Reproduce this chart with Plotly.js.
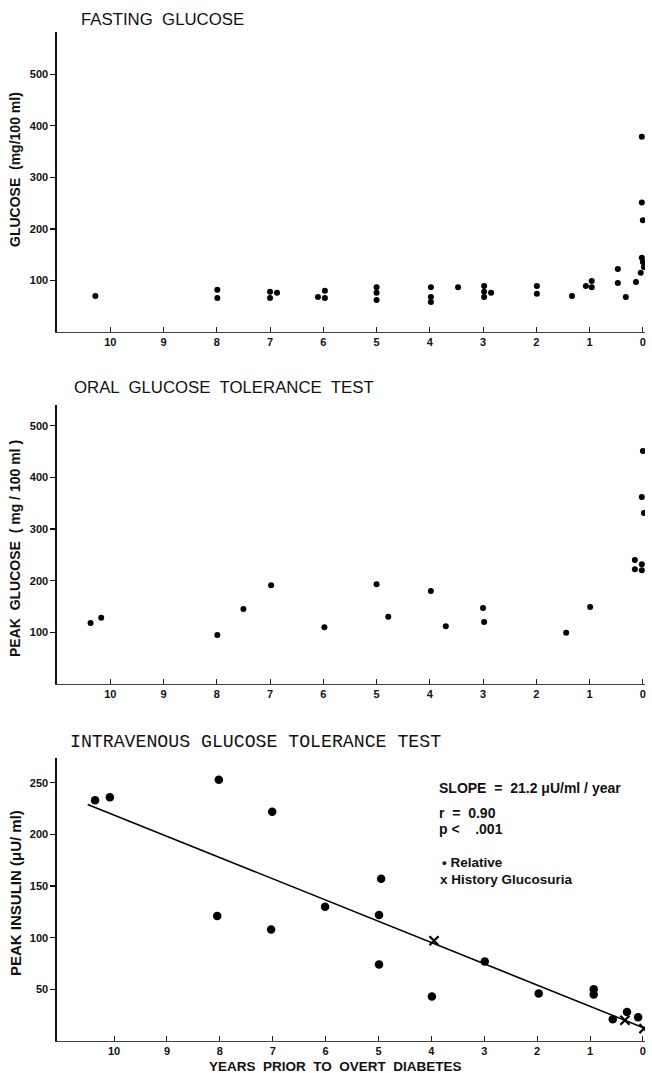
<!DOCTYPE html>
<html>
<head>
<meta charset="utf-8">
<script src="https://cdn.plot.ly/plotly-3.0.1.min.js"></script>
<style>html,body{margin:0;padding:0;background:#fff;}#chart{width:652px;height:1073px;}</style>
</head>
<body>
<div id="chart"></div>
<script>
// ---- Data (years prior to overt diabetes, values) ----
const fastYears = [10.28, 7.99, 7.99, 7.0, 7.0, 6.87, 6.1, 5.97, 5.97, 5.0, 5.0, 5.0, 3.98, 3.98, 3.98, 3.47, 2.98, 2.98, 2.98, 2.85, 1.99, 1.99, 1.33, 1.07, 0.96, 0.96, 0.47, 0.47, 0.32, 0.13, 0.02, 0.02, 0.0, 0.02, 0.0, -0.02, 0.04];
const fastGlucose = [70, 82, 66, 78, 66, 76, 68, 80, 66, 87, 76, 62, 87, 68, 58, 87, 89, 78, 68, 76, 89, 74, 70, 89, 99, 87, 122, 95, 68, 97, 379, 251, 217, 144, 136, 126, 115];

const ogttYears = [10.37, 10.17, 7.99, 7.5, 6.98, 5.98, 5.0, 4.78, 3.98, 3.7, 3.0, 2.98, 1.44, 0.99, 0.0, 0.02, -0.02, 0.15, 0.15, 0.02, 0.02];
const ogttPeak = [118, 128, 95, 145, 191, 110, 193, 130, 180, 112, 147, 120, 99, 149, 451, 362, 331, 240, 222, 232, 220];

const relYears = [10.36, 10.08, 8.02, 7.01, 8.05, 7.03, 6.01, 4.95, 4.99, 4.99, 3.99, 2.99, 1.97, 0.93, 0.93, 0.57, 0.3, 0.09];
const relInsulin = [233, 236, 253, 222, 121, 108, 130, 157, 122, 74, 43, 77, 46, 50, 45, 21, 28, 23];
const gluYears = [3.95, 0.34, -0.02];
const gluInsulin = [97, 20, 12];
const fitYears = [10.5, -0.05];
const fitInsulin = [229, 12];

const xTicks = [10, 9, 8, 7, 6, 5, 4, 3, 2, 1, 0];
const xTickText = ['10', '9', '8', '7', '6', '5', '4', '3', '2', '1', '0'];
const glucoseTicks = [100, 200, 300, 400, 500];
const insulinTicks = [50, 100, 150, 200, 250];

const panelTitles = ['FASTING  GLUCOSE', 'ORAL  GLUCOSE  TOLERANCE  TEST', 'INTRAVENOUS GLUCOSE TOLERANCE TEST'];
const yTitles = ['GLUCOSE  (mg/100 ml)', 'PEAK  GLUCOSE  ( mg / 100 ml )', 'PEAK INSULIN (\u03bcU/ ml)'];
const xTitle = 'YEARS  PRIOR  TO  OVERT  DIABETES';
const statTexts = ['SLOPE  =  21.2 \u03bcU/ml / year', 'r  =  0.90', 'p <    .001', '\u2022 Relative', 'x History Glucosuria'];

// ---- Layout helpers ----
const H = 1073, W = 652;
const fy = px => (H - px) / H;
const fx = px => px / W;
const tickFont = {family: 'Liberation Sans, Arial, sans-serif', size: 11, color: '#111', weight: 'bold'};

function xAxis(anchor, domainRange) {
  return {
    domain: [fx(57), fx(645)], range: domainRange, anchor: anchor,
    tickvals: xTicks, ticktext: xTickText, ticks: 'inside', ticklen: 5, tickwidth: 1, tickcolor: '#222',
    showline: true, linecolor: '#444', linewidth: 1, showgrid: false, zeroline: false,
    tickfont: tickFont, ticklabelstandoff: 0, automargin: false, fixedrange: true
  };
}
function yAxis(anchor, dom, rng, ticks) {
  return {
    domain: dom, range: rng, anchor: anchor,
    tickvals: ticks, ticks: 'outside', ticklen: 5, tickwidth: 1.2, tickcolor: '#111',
    showline: true, linecolor: '#111', linewidth: 1.6, showgrid: false, zeroline: false,
    tickfont: tickFont, ticklabelstandoff: 0, automargin: false, fixedrange: true
  };
}

const dotSmall = {symbol: 'circle', size: 6, color: '#000'};
const traces = [
  {x: fastYears, y: fastGlucose, xaxis: 'x', yaxis: 'y', type: 'scatter', mode: 'markers', marker: dotSmall, hoverinfo: 'skip'},
  {x: ogttYears, y: ogttPeak, xaxis: 'x2', yaxis: 'y2', type: 'scatter', mode: 'markers', marker: dotSmall, hoverinfo: 'skip'},
  {x: fitYears, y: fitInsulin, xaxis: 'x3', yaxis: 'y3', type: 'scatter', mode: 'lines', line: {color: '#000', width: 1.5}, hoverinfo: 'skip'},
  {x: relYears, y: relInsulin, xaxis: 'x3', yaxis: 'y3', type: 'scatter', mode: 'markers', marker: {symbol: 'circle', size: 8.5, color: '#000'}, hoverinfo: 'skip'},
  {x: gluYears, y: gluInsulin, xaxis: 'x3', yaxis: 'y3', type: 'scatter', mode: 'markers', marker: {symbol: 'x-thin', size: 9, line: {color: '#000', width: 2.2}}, hoverinfo: 'skip'}
];

const titleFontSans = {family: 'Liberation Sans, Arial, sans-serif', size: 16.8, color: '#111'};
const titleFontMono = {family: 'Liberation Mono, DejaVu Sans Mono, monospace', size: 18.2, color: '#111'};
const yTitleFont = {family: 'Liberation Sans, Arial, sans-serif', size: 14, color: '#111', weight: 'bold'};
const statFont = {family: 'Liberation Sans, Arial, sans-serif', size: 14, color: '#111', weight: 'bold'};

const annotations = [
  {text: panelTitles[0], xref: 'paper', yref: 'paper', x: fx(79), y: fy(19), xanchor: 'left', yanchor: 'middle', showarrow: false, font: titleFontSans},
  {text: panelTitles[1], xref: 'paper', yref: 'paper', x: fx(72), y: fy(388), xanchor: 'left', yanchor: 'middle', showarrow: false, font: titleFontSans},
  {text: panelTitles[2], xref: 'paper', yref: 'paper', x: fx(68), y: fy(742), xanchor: 'left', yanchor: 'middle', showarrow: false, font: titleFontMono},
  {text: yTitles[0], xref: 'paper', yref: 'paper', x: fx(15), y: fy(170), xanchor: 'center', yanchor: 'middle', textangle: -90, showarrow: false, font: yTitleFont},
  {text: yTitles[1], xref: 'paper', yref: 'paper', x: fx(15), y: fy(549), xanchor: 'center', yanchor: 'middle', textangle: -90, showarrow: false, font: yTitleFont},
  {text: yTitles[2], xref: 'paper', yref: 'paper', x: fx(15), y: fy(893), xanchor: 'center', yanchor: 'middle', textangle: -90, showarrow: false, font: {...yTitleFont, size: 15}},
  {text: xTitle, xref: 'paper', yref: 'paper', x: fx(335), y: fy(1066), xanchor: 'center', yanchor: 'middle', showarrow: false, borderpad: 0, font: {...yTitleFont, size: 13.5}},
  {text: statTexts[0], xref: 'paper', yref: 'paper', x: fx(437), y: fy(788), xanchor: 'left', yanchor: 'middle', showarrow: false, font: statFont},
  {text: statTexts[1], xref: 'paper', yref: 'paper', x: fx(437), y: fy(813), xanchor: 'left', yanchor: 'middle', showarrow: false, font: statFont},
  {text: statTexts[2], xref: 'paper', yref: 'paper', x: fx(437), y: fy(829), xanchor: 'left', yanchor: 'middle', showarrow: false, font: statFont},
  {text: statTexts[3], xref: 'paper', yref: 'paper', x: fx(440), y: fy(862), xanchor: 'left', yanchor: 'middle', showarrow: false, font: {...statFont, size: 13.5}},
  {text: statTexts[4], xref: 'paper', yref: 'paper', x: fx(438), y: fy(879), xanchor: 'left', yanchor: 'middle', showarrow: false, font: {...statFont, size: 13.5}}
];

const layout = {
  width: W, height: H, margin: {l: 0, r: 0, t: 0, b: 0},
  paper_bgcolor: '#fff', plot_bgcolor: 'rgba(0,0,0,0)', showlegend: false,
  xaxis: xAxis('y', [11, -0.04]),
  yaxis: yAxis('x', [fy(332), fy(32)], [0, 582], glucoseTicks),
  xaxis2: xAxis('y2', [11, -0.04]),
  yaxis2: yAxis('x2', [fy(684), fy(405)], [0, 540], glucoseTicks),
  xaxis3: xAxis('y3', [11.08, -0.04]),
  yaxis3: yAxis('x3', [fy(1041), fy(758)], [0, 274], insulinTicks),
  annotations: annotations
};

Plotly.newPlot('chart', traces, layout, {staticPlot: true, displayModeBar: false});
</script>
</body>
</html>
